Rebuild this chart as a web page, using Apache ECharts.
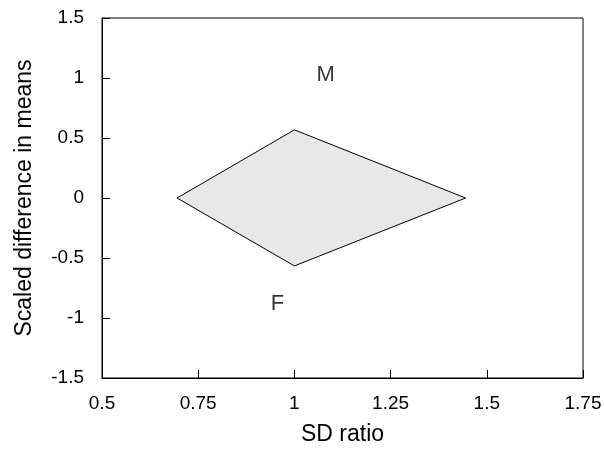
<!DOCTYPE html>
<html>
<head>
<meta charset="utf-8">
<script src="https://cdn.jsdelivr.net/npm/echarts@6/dist/echarts.min.js"></script>
<style>html,body{margin:0;padding:0;background:#fff}#c{width:604px;height:449px}</style>
</head>
<body>
<div id="c"></div>
<script>
const diamondX = [0.695, 1.0, 1.445, 1.0];
const diamondY = [0.0, 0.568, 0.0, -0.566];
const labelNames = ['M', 'F'];
const labelX = [1.081, 0.956];
const labelY = [1.025, -0.88];

const chart = echarts.init(document.getElementById('c'), null, {renderer: 'canvas'});
const font = 'Liberation Sans, Arial, sans-serif';
chart.setOption({
  animation: false,
  backgroundColor: '#fff',
  grid: {left: 102, right: 21, top: 18, bottom: 71, outerBoundsMode: 'none', containLabel: false,
         show: true, borderColor: '#000', borderWidth: 1, backgroundColor: 'transparent'},
  xAxis: {
    type: 'value', min: 0.5, max: 1.75, interval: 0.25,
    name: 'SD ratio', nameLocation: 'middle', nameGap: 45,
    nameTextStyle: {fontFamily: font, fontSize: 23, color: '#000'},
    axisLine: {show: true, onZero: false, lineStyle: {color: '#000', width: 1}},
    axisTick: {show: true, inside: true, length: 8, lineStyle: {color: '#000'}},
    axisLabel: {fontFamily: font, fontSize: 19, color: '#000', margin: 16},
    splitLine: {show: false}
  },
  yAxis: {
    type: 'value', min: -1.5, max: 1.5, interval: 0.5,
    name: 'Scaled difference in means', nameLocation: 'middle', nameGap: 66,
    nameTextStyle: {fontFamily: font, fontSize: 23, color: '#000'},
    axisLine: {show: true, onZero: false, lineStyle: {color: '#000', width: 1}},
    axisTick: {show: true, inside: true, length: 8, lineStyle: {color: '#000'}},
    axisLabel: {fontFamily: font, fontSize: 19, color: '#000', margin: 18},
    splitLine: {show: false}
  },
  series: [
    {
      type: 'custom',
      data: [0],
      renderItem: function (params, api) {
        const pts = diamondX.map((x, i) => api.coord([x, diamondY[i]]));
        return {
          type: 'polygon',
          shape: {points: pts},
          style: {fill: '#e8e8e8', stroke: '#000', lineWidth: 1}
        };
      },
      silent: true
    },
    {
      type: 'scatter',
      symbolSize: 0,
      data: labelNames.map((n, i) => ({name: n, value: [labelX[i], labelY[i]]})),
      label: {show: true, position: 'inside', formatter: '{b}', fontFamily: font, fontSize: 22, color: '#000'},
      silent: true
    }
  ]
});
</script>
</body>
</html>
